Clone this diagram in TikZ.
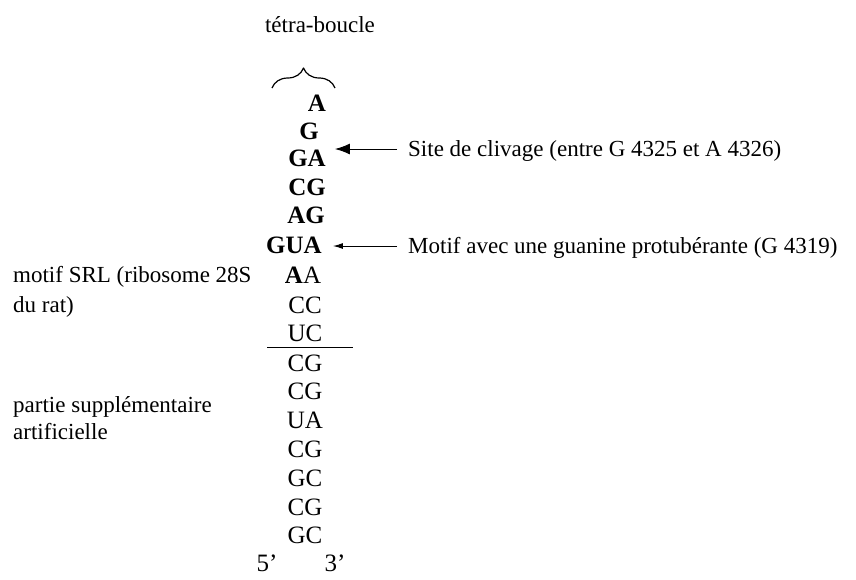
\documentclass[tikz,border=0pt]{standalone}
\usepackage{fontspec}
\setmainfont{Liberation Serif}
\usetikzlibrary{decorations.pathreplacing,arrows.meta}
\begin{document}
\begin{tikzpicture}[x=1pt,y=-1pt,line join=round,
	lab/.style={font=\fontsize{23}{28}\selectfont,inner sep=0pt},
	nt/.style={font=\fontsize{25}{28}\selectfont,inner sep=0pt},
	ntb/.style={nt,font=\fontsize{25}{28}\selectfont\bfseries}]
	\useasboundingbox (0,0) rectangle (856,579);
	%==tétra-boucle
	\node[lab,anchor=base] (tb) at (320,32) {tétra-boucle};
	\draw[line width=1.2pt,decorate,decoration={brace,amplitude=20pt}] (272,88)coordinate(L)--(335,88)coordinate(R);
	%==tige
	\foreach \i/\t/\x/\y in {1/A/317/103,2/G/309/131,3/GA/307/158,4/CG/307/187,5/AG/306/215,6/GUA/294/245}
	\node[ntb] (b\i) at (\x,\y) {\t};
	\node[nt] (b7) at (303,275) {\textbf{A}A};
	\foreach \i/\t/\y in {8/CC/305,9/UC/333,10/CG/363,11/CG/391,12/UA/420,13/CG/449,14/GC/478,15/CG/507,16/GC/535}
	\node[nt] (b\i) at (305,\y) {\t};
	\draw[line width=1pt] (267,347)coordinate(M1)--(353,347)coordinate(M2);
	\node[nt] (p5) at (267,563) {5’};
	\node[nt] (p3) at (335,563) {3’};
	%==flèches
	\node[lab,anchor=base west] (site) at (408,156) {Site de clivage (entre G 4325 et A 4326)};
	\node[lab,anchor=base west] (mot) at (408,253) {Motif avec une guanine protubérante (G 4319)};
	\coordinate (s1) at (397,149);
	\coordinate (s2) at (397,246);
	\draw[line width=1pt,-{Latex[length=15pt,width=11pt]}] (s1)--(s1-|b3.east) [shorten >=9pt];
	\draw[line width=1pt,-{Latex[length=10pt,width=6pt]}] (s2)--(s2-|b6.east) [shorten >=11pt];
	%==légendes
	\foreach \n/\t/\y in {srl/motif SRL (ribosome 28S/282,rat/du rat)/312,sup/partie supplémentaire/412,art/artificielle/439}
	\node[lab,anchor=base west] (\n) at (13,\y) {\t};
\end{tikzpicture}
\end{document}
